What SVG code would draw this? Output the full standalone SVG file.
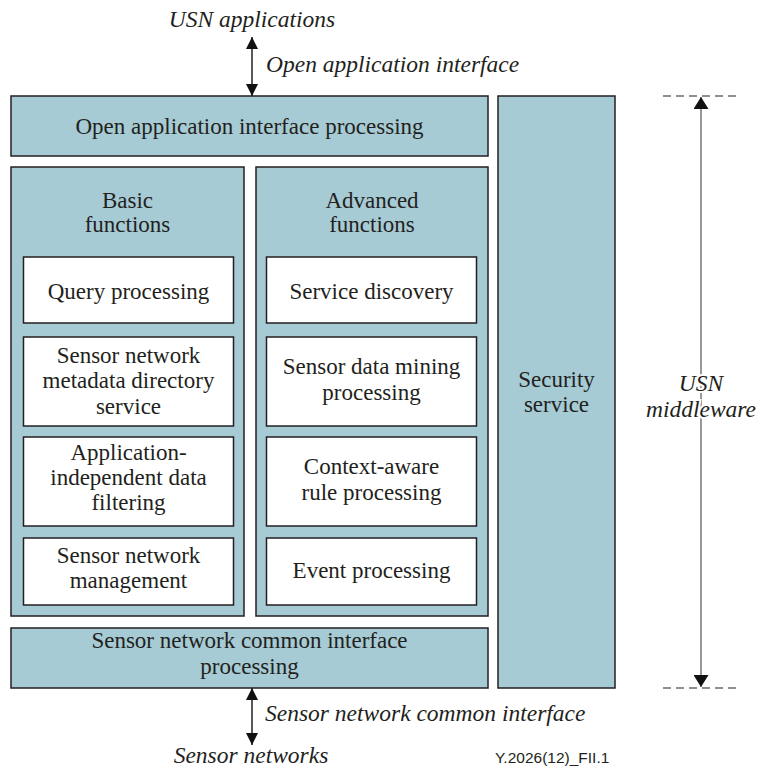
<svg xmlns="http://www.w3.org/2000/svg" width="760" height="773" viewBox="0 0 760 773" font-family="Liberation Serif, Times New Roman, serif">
<style>
.blue{fill:#a6cbd5;stroke:#231f20;stroke-width:1.5}
.white{fill:#ffffff;stroke:#231f20;stroke-width:1.5}
text{font-size:23px;fill:#231f20;text-anchor:middle}
text.it{font-style:italic;font-size:23.5px}
.st{text-anchor:start}
text.ref{font-family:Liberation Sans, Arial, sans-serif;font-size:15.5px;text-anchor:start}
.conn{stroke:#231f20;stroke-width:1.5;fill:none}
.dim{stroke:#555555;stroke-width:1.2;fill:none}
.dash{stroke:#231f20;stroke-width:1.2;stroke-dasharray:8 5;fill:none}
.halo{paint-order:stroke;stroke:#ffffff;stroke-width:4}
</style>
<defs>
<marker id="ah" viewBox="0 0 12 12" refX="12" refY="6" markerWidth="12" markerHeight="12" markerUnits="userSpaceOnUse" orient="auto-start-reverse">
<path d="M0,0 L12,6 L0,12 Z" fill="#111111"/>
</marker>
<marker id="ah2" viewBox="0 0 12 15" refX="12" refY="7.5" markerWidth="12" markerHeight="15" markerUnits="userSpaceOnUse" orient="auto-start-reverse">
<path d="M0,0 L12,7.5 L0,15 Z" fill="#111111"/>
</marker>
</defs>

<g id="connectors">
<line class="conn" x1="252" y1="37" x2="252" y2="96" marker-start="url(#ah)" marker-end="url(#ah)"/>
<line class="conn" x1="252" y1="688" x2="252" y2="745" marker-start="url(#ah)" marker-end="url(#ah)"/>
<line class="dim" x1="701" y1="97" x2="701" y2="687" marker-start="url(#ah2)" marker-end="url(#ah2)"/>
<line class="dash" x1="663" y1="96" x2="738" y2="96"/>
<line class="dash" x1="663" y1="688" x2="738" y2="688"/>
</g>

<g id="labels">
<text class="it" x="252" y="27">USN applications</text>
<text class="it st" x="266" y="72">Open application interface</text>
<text class="it st" x="265" y="721">Sensor network common interface</text>
<text class="it" x="251" y="763">Sensor networks</text>
<text class="it halo" x="701" y="391">USN</text>
<text class="it halo" x="701" y="417">middleware</text>
<text class="ref" x="495" y="763">Y.2026(12)_FII.1</text>
</g>

<g id="open-api">
<rect class="blue" x="11" y="96" width="477" height="60"/>
<text x="249.5" y="134">Open application interface processing</text>
</g>

<g id="basic">
<rect class="blue" x="11" y="167" width="233" height="449"/>
<text x="127.5" y="208">Basic</text>
<text x="127.5" y="232">functions</text>
</g>

<g id="advanced">
<rect class="blue" x="256" y="167" width="232" height="449"/>
<text x="372" y="208">Advanced</text>
<text x="372" y="232">functions</text>
</g>

<g id="security">
<rect class="blue" x="498" y="96" width="117" height="592"/>
<text x="556.5" y="387">Security</text>
<text x="556.5" y="412">service</text>
</g>

<g id="common">
<rect class="blue" x="11" y="628" width="477" height="60"/>
<text x="249.5" y="648">Sensor network common interface</text>
<text x="249.5" y="674">processing</text>
</g>

<g id="query">
<rect class="white" x="23.5" y="257" width="210" height="66"/>
<text x="128.5" y="299">Query processing</text>
</g>

<g id="metadata">
<rect class="white" x="23.5" y="337" width="210" height="89"/>
<text x="128.5" y="363">Sensor network</text>
<text x="128.5" y="388">metadata directory</text>
<text x="128.5" y="414">service</text>
</g>

<g id="filtering">
<rect class="white" x="23.5" y="437" width="210" height="89"/>
<text x="128.5" y="460">Application-</text>
<text x="128.5" y="485">independent data</text>
<text x="128.5" y="510">filtering</text>
</g>

<g id="management">
<rect class="white" x="23.5" y="538" width="210" height="67"/>
<text x="128.5" y="563">Sensor network</text>
<text x="128.5" y="588">management</text>
</g>

<g id="discovery">
<rect class="white" x="266.5" y="257" width="210" height="66"/>
<text x="371.5" y="299">Service discovery</text>
</g>

<g id="mining">
<rect class="white" x="266.5" y="337" width="210" height="89"/>
<text x="371.5" y="374">Sensor data mining</text>
<text x="371.5" y="400">processing</text>
</g>

<g id="context">
<rect class="white" x="266.5" y="437" width="210" height="89"/>
<text x="371.5" y="474">Context-aware</text>
<text x="371.5" y="500">rule processing</text>
</g>

<g id="event">
<rect class="white" x="266.5" y="538" width="210" height="67"/>
<text x="371.5" y="578">Event processing</text>
</g>
</svg>
